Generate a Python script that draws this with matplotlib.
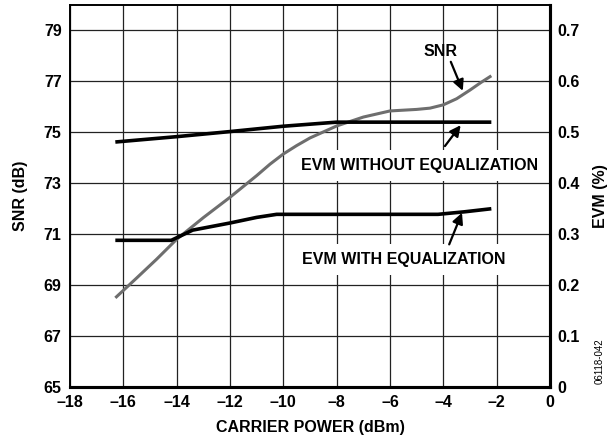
import matplotlib
matplotlib.use("Agg")
import matplotlib.pyplot as plt

plt.rcParams['font.family'] = ['Liberation Sans', 'DejaVu Sans']
plt.rcParams['font.weight'] = 'bold'

# SNR curve (left axis, dB)
snr_power = [-16.3, -15.5, -14.75, -14.0, -13.0, -12.0, -11.0, -10.5, -10.0, -9.5,
             -9.0, -8.0, -7.0, -6.0, -5.0, -4.5, -4.0, -3.5, -3.0, -2.6, -2.2]
snr_db = [68.5, 69.28, 70.02, 70.8, 71.65, 72.45, 73.3, 73.75, 74.15, 74.48,
          74.78, 75.25, 75.6, 75.84, 75.9, 75.95, 76.08, 76.32, 76.66, 76.95, 77.22]

# EVM without equalization (right axis, %)
evm_wo_power = [-16.3, -14.0, -12.0, -10.0, -8.0, -6.0, -4.0, -2.2]
evm_wo = [0.481, 0.4915, 0.5015, 0.512, 0.520, 0.520, 0.520, 0.520]

# EVM with equalization (right axis, %)
evm_w_power = [-16.3, -14.2, -13.4, -12.0, -11.0, -10.25, -8.0, -6.0, -4.2, -3.2, -2.2]
evm_w = [0.288, 0.288, 0.308, 0.322, 0.333, 0.339, 0.339, 0.339, 0.339, 0.344, 0.350]

x_ticks = [-18, -16, -14, -12, -10, -8, -6, -4, -2, 0]
x_labels = ['\u201318', '\u201316', '\u201314', '\u201312', '\u201310',
            '\u20138', '\u20136', '\u20134', '\u20132', '0']
snr_ticks = [65, 67, 69, 71, 73, 75, 77, 79]
evm_ticks = [0, 0.1, 0.2, 0.3, 0.4, 0.5, 0.6, 0.7]
evm_labels = ['0', '0.1', '0.2', '0.3', '0.4', '0.5', '0.6', '0.7']

fs = 11.5
fig = plt.figure(figsize=(6.1, 4.42), dpi=100)
ax = fig.add_axes([70 / 610, 1 - 387 / 442, 480 / 610, 382 / 442])
ax2 = ax.twinx()

ax.set_xlim(-18, 0)
ax.set_ylim(65, 80)
ax2.set_ylim(0, 0.75)

ax.set_xticks(x_ticks)
ax.set_xticklabels(x_labels, fontsize=fs, fontweight='bold')
ax.set_yticks(snr_ticks)
ax.set_yticklabels([str(t) for t in snr_ticks], fontsize=fs, fontweight='bold')
ax2.set_yticks(evm_ticks)
ax2.set_yticklabels(evm_labels, fontsize=fs, fontweight='bold')

ax.tick_params(axis='x', length=0, pad=6)
ax.tick_params(axis='y', length=0, pad=6)
ax2.tick_params(axis='y', length=0, pad=5)

ax.grid(True, color='#222222', linewidth=0.9)
ax.set_axisbelow(True)

for a in (ax, ax2):
    a.spines['left'].set_linewidth(1.2)
    a.spines['top'].set_linewidth(1.2)
    a.spines['bottom'].set_linewidth(2.2)
    a.spines['right'].set_linewidth(2.2)

ax.plot(snr_power, snr_db, color='#6e6e6e', linewidth=2.2, solid_capstyle='butt')
ax2.plot(evm_wo_power, evm_wo, color='black', linewidth=2.6, solid_capstyle='butt')
ax2.plot(evm_w_power, evm_w, color='black', linewidth=2.6, solid_capstyle='butt')

ax.set_xlabel('CARRIER POWER (dBm)', fontsize=fs, fontweight='bold', labelpad=7)
ax.set_ylabel('SNR (dB)', fontsize=fs, fontweight='bold')
ax.yaxis.set_label_coords(-0.088, 0.5)
ax2.set_ylabel('EVM (%)', fontsize=fs, fontweight='bold', rotation=90)
ax2.yaxis.set_label_coords(1.09, 0.5)

arrow = dict(arrowstyle='-|>', color='black', lw=1.6, mutation_scale=16,
             shrinkA=0, shrinkB=0)
box = dict(boxstyle='square,pad=0.5', facecolor='white', edgecolor='none')

# labels
ax.text(-4.09, 78.16, 'SNR', fontsize=fs, fontweight='bold', ha='center', va='center')
ax2.text(-4.88, 0.434, 'EVM WITHOUT EQUALIZATION', fontsize=fs, fontweight='bold',
         ha='center', va='center', bbox=box, zorder=5)
ax2.text(-5.47, 0.250, 'EVM WITH EQUALIZATION', fontsize=fs, fontweight='bold',
         ha='center', va='center', bbox=box, zorder=5)

# arrows
ax.annotate('', xy=(-3.27, 76.63), xytext=(-3.72, 77.77), arrowprops=arrow, zorder=6)
ax2.annotate('', xy=(-3.35, 0.514), xytext=(-3.94, 0.473), arrowprops=arrow, zorder=6)
ax2.annotate('', xy=(-3.3, 0.342), xytext=(-3.78, 0.280), arrowprops=arrow, zorder=6)

fig.text(600 / 610, 1 - 361 / 442, '06118-042', fontsize=7, fontweight='normal',
         rotation=90, ha='center', va='center')

fig.savefig('out.png', dpi=100)
